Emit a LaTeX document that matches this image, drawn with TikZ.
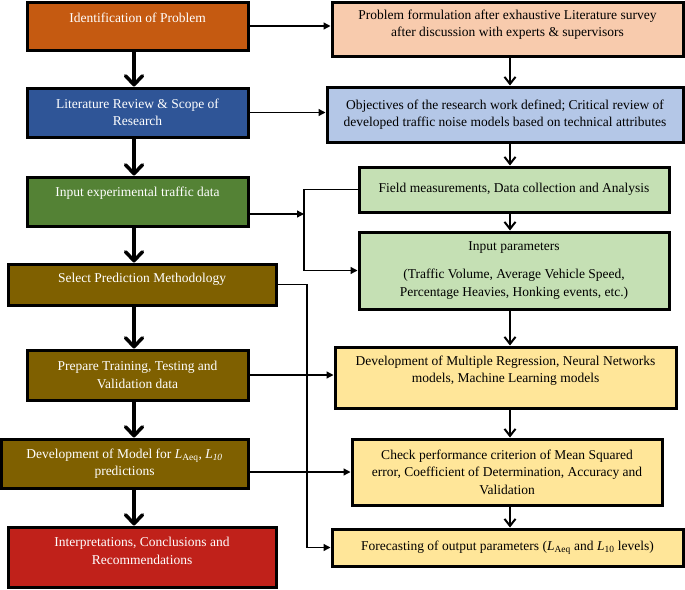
\documentclass[tikz,border=0pt]{standalone}
\usepackage{fontspec}
\setmainfont{Liberation Serif}
\usetikzlibrary{arrows.meta}
\definecolor{probfill}{RGB}{197,90,17}
\definecolor{litfill}{RGB}{47,85,151}
\definecolor{datafill}{RGB}{84,130,53}
\definecolor{modfill}{RGB}{127,96,0}
\definecolor{endfill}{RGB}{192,33,26}
\definecolor{peach}{RGB}{248,203,173}
\definecolor{paleblue}{RGB}{180,199,231}
\definecolor{palegreen}{RGB}{197,224,180}
\definecolor{paleyellow}{RGB}{255,230,153}
\begin{document}
\begin{tikzpicture}[x=1pt,y=-1pt,
    stagebox/.style={draw,line width=3pt,align=center,inner sep=2pt,
      font=\fontsize{13.5}{17.5}\selectfont},
    leftbox/.style={stagebox,text=white},
    flow/.style={line width=3.5pt,-{Straight Barb[length=9pt,width=17pt,round]}},
    subflow/.style={line width=2pt,-{Straight Barb[length=7pt,width=11pt]}},
    link/.style={line width=1.3pt,-{Triangle[length=7pt,width=7pt]}}]
  \useasboundingbox (0,0) rectangle (685,589);
  % left column
  \node[leftbox,fill=probfill,minimum width=221pt,minimum height=48pt] (idp) at (137.5,26) {Identification of Problem\\[0pt]~};
  \node[leftbox,fill=litfill,minimum width=221pt,minimum height=49pt] (lit) at (137.5,112.5) {Literature Review \& Scope of\\Research};
  \node[leftbox,fill=datafill,minimum width=221pt,minimum height=49pt] (inp) at (137.5,201.5) {Input experimental traffic data\\[2pt]~};
  \node[leftbox,fill=modfill,minimum width=268pt,minimum height=41pt] (sel) at (142,284.5) {Select Prediction Methodology\\[-4pt]~};
  \node[leftbox,fill=modfill,minimum width=221pt,minimum height=50pt] (prep) at (137.5,375) {Prepare Training, Testing and\\Validation data};
  \node[leftbox,fill=modfill,minimum width=247pt,minimum height=49pt] (devm) at (124.5,463.5) {Development of Model for \textit{L}\textsubscript{Aeq}, \textit{L\textsubscript{10}}\\predictions};
  \node[leftbox,fill=endfill,minimum width=268pt,minimum height=60pt] (intp) at (142,557) {Interpretations, Conclusions and\\Recommendations\\[-5pt]~};
  % right column
  \node[stagebox,fill=peach,minimum width=351pt,minimum height=54pt] (form) at (507.5,29) {Problem formulation after exhaustive Literature survey\\after discussion with experts \& supervisors\\[-6pt]~};
  \node[stagebox,fill=paleblue,minimum width=356pt,minimum height=55pt] (obj) at (505,114.5) {Objectives of the research work defined; Critical review of\\developed traffic noise models based on technical attributes};
  \node[stagebox,fill=palegreen,minimum width=310pt,minimum height=45pt] (fld) at (514,189.5) {Field measurements, Data collection and Analysis};
  \node[stagebox,fill=palegreen,minimum width=310pt,minimum height=77pt] (par) at (514,270.5) {Input parameters\\[11pt](Traffic Volume, Average Vehicle Speed,\\Percentage Heavies, Honking events, etc.)};
  \node[stagebox,fill=paleyellow,minimum width=341pt,minimum height=61pt] (mlr) at (505.5,377.5) {Development of Multiple Regression, Neural Networks\\models, Machine Learning models\\[-1pt]~};
  \node[stagebox,fill=paleyellow,minimum width=310pt,minimum height=66pt] (chk) at (507,472) {Check performance criterion of Mean Squared\\error, Coefficient of Determination, Accuracy and\\Validation};
  \node[stagebox,fill=paleyellow,minimum width=351pt,minimum height=37pt] (fcst) at (507.5,547.5) {Forecasting of output parameters (\textit{L}\textsubscript{Aeq} and \textit{L}\textsubscript{10} levels)};
  \coordinate (lcol) at (134,0);
  \coordinate (rcol) at (510,0);
  \coordinate (fork) at (304,214);
  \coordinate (drop) at (307,547.5);
  % main flow
  \foreach \a/\b in {idp/lit,lit/inp,inp/sel,sel/prep,prep/devm,devm/intp}
    \draw[flow] (\a.south -| lcol) -- (\b.north -| lcol);
  \foreach \a/\b in {form/obj,obj/fld,fld/par,par/mlr,mlr/chk,chk/fcst}
    \draw[subflow] (\a.south -| rcol) -- (\b.north -| rcol);
  % cross links
  \draw[link] (idp.east) -- (idp.east -| form.west);
  \draw[link] (lit.east) -- (lit.east -| obj.west);
  \draw[link] ([yshift=-12.5pt]inp.east) -- (fork);
  \draw[link] (fld.west) -| (fork) |- (par.west);
  \draw[link] (sel.east) -| (drop) -- (fcst.west);
  \draw[link] (prep.east) -- (prep.east -| mlr.west);
  \draw[link] (devm.east |- chk.west) -- (chk.west);
\end{tikzpicture}
\end{document}
